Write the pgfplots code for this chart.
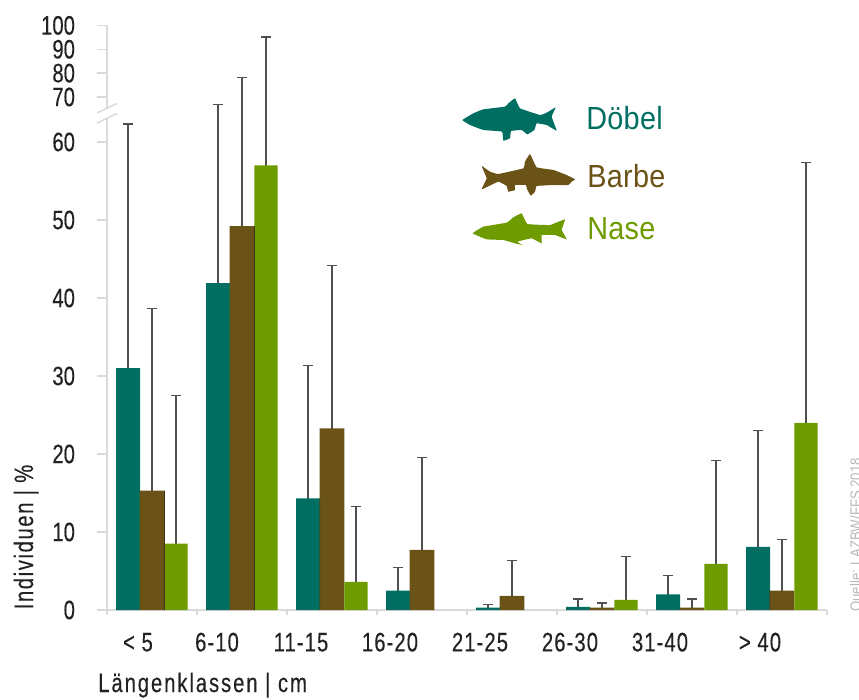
\documentclass[border=0pt]{standalone}
\usepackage{pgfplots}
\pgfplotsset{compat=1.18}
\usepackage{fontspec}
\setmainfont[FakeStretch=0.76,FakeBold=0.25]{Liberation Sans}
\newfontfamily\labfont[FakeStretch=0.76,FakeBold=0.25,LetterSpace=6]{Liberation Sans}
\newfontfamily\lenfont[FakeStretch=0.76,FakeBold=0.25,LetterSpace=7.2]{Liberation Sans}
\newfontfamily\catfont[FakeStretch=0.76,FakeBold=0.25,LetterSpace=4]{Liberation Sans}
\newfontfamily\legfont[FakeStretch=0.9,LetterSpace=1]{Liberation Sans}
\newfontfamily\srcfont[FakeStretch=0.86]{Liberation Sans}
\definecolor{teal1}{HTML}{006F62}
\definecolor{brown1}{HTML}{6B5317}
\definecolor{green1}{HTML}{6E9B00}
\definecolor{axgray}{HTML}{DADADA}
\definecolor{txt}{HTML}{222222}
\definecolor{errc}{HTML}{505050}
\definecolor{edge}{HTML}{3A3210}
\tikzset{px/.style={x=.75pt,y=-.75pt}}
\pgfplotsset{
  errstyle/.style={ycomb,color=errc,line width=.9pt,mark=-,mark size=4.1pt,mark options={line width=.9pt,color=errc}}
}
\begin{document}
\begin{tikzpicture}
\clip (0,0) rectangle (644.25pt,-524.25pt);
\begin{scope}[px]
  \draw[axgray,line width=1.1pt] (107,610) -- (827,610);
  \foreach \i in {0,...,8} {\draw[axgray,line width=1.1pt] ({107+90*\i},610) -- ({107+90*\i},615);}
\end{scope}
\begin{axis}[
  at={(80.25pt,-457.5pt)}, anchor=origin,
  scale only axis, width=540pt, height=438.45pt,
  xmin=0, xmax=8, ymin=0, ymax=100,
  y coord trafo/.code={\pgfmathparse{#1<=63 ? #1 : (#1<=70 ? 63+(#1-63)*0.3957 : 65.77+(#1-70)*0.306)}},
  axis line style={draw=none},
  axis x line*=bottom, axis y line*=left,
  xtick={0.344,1.2222,2.1556,3.1444,4.1444,5.1444,6.1444,7.2556},
  xticklabels={{< 5},{6-10},{11-15},{16-20},{21-25},{26-30},{31-40},{> 40}},
  xtick style={draw=none},
  xticklabel style={font=\catfont\fontsize{20pt}{22pt}\selectfont,text=txt,anchor=base,yshift=-23.5pt},
  ytick={0,10,20,30,40,50,60,70,80,90,100},
  yticklabels={0,10,20,30,40,50,60,70,80,90,100},
  ytick style={draw=axgray,line width=1.1pt},
  major tick length=7.5pt,
  tick align=outside,
  tick pos=left,
  yticklabel style={font=\fontsize{20pt}{20pt}\selectfont,text=txt,anchor=east,xshift=-13pt,inner ysep=0pt},
  clip=false,
]
% upper ends of the error bars (drawn first, behind the bars)
\addplot[errstyle,xshift=-18pt] coordinates {
 (0.5,62.3) (1.5,67.5) (2.5,31.3) (3.5,5.4) (4.5,0.7) (5.5,1.4) (6.5,4.4) (7.5,23.0)};
\addplot[errstyle] coordinates {
 (0.5,38.7) (1.5,78.2) (2.5,44.2) (3.5,19.6) (4.5,6.3) (5.5,0.9) (6.5,1.4) (7.5,9.0)};
\addplot[errstyle,xshift=18pt] coordinates {
 (0.5,27.5) (1.5,95.1) (2.5,13.3) (5.5,6.9) (6.5,19.2) (7.5,57.4)};
% Döbel
\addplot[ybar,bar width=18pt,bar shift=-18pt,fill=teal1,draw=none] coordinates {
 (0.5,31.0) (1.5,41.9) (2.5,14.3) (3.5,2.5) (4.5,0.3) (5.5,0.4) (6.5,2.0) (7.5,8.1)};
% Barbe
\addplot[ybar,bar width=18.6pt,bar shift=0pt,fill=brown1,draw=none] coordinates {
 (0.5,15.3) (1.5,49.2) (2.5,23.3) (3.5,7.7) (4.5,1.8) (5.5,0.3) (6.5,0.3) (7.5,2.5)};
% Nase
\addplot[ybar,bar width=17.4pt,bar shift=18pt,fill=green1,draw=none] coordinates {
 (0.5,8.5) (1.5,57.0) (2.5,3.6) (5.5,1.3) (6.5,5.9) (7.5,24.0)};
% thin dark edges between neighbouring bars
\addplot[ybar,bar width=.55pt,bar shift=9.3pt,fill=edge,draw=none] coordinates {(0.5,15.3) (1.5,49.2)};
\addplot[ybar,bar width=.55pt,bar shift=-9.1pt,fill=edge,draw=none] coordinates {(2.5,14.3) (7.5,2.5)};
\end{axis}
\begin{scope}[px]
  % broken y axis
  \draw[axgray,line width=1.1pt] (107,25.5) -- (107,107.5);
  \draw[axgray,line width=1.1pt] (107,118.5) -- (107,610);
  \draw[axgray,line width=1.1pt] (97,113) -- (117,103.5);
  \draw[axgray,line width=1.1pt] (97,123) -- (117,113.5);
  % axis titles
  \node[rotate=90,anchor=base,inner sep=0,text=txt,font=\labfont\fontsize{20pt}{22pt}\selectfont] at (33,537) {Individuen | \%};
  \node[anchor=base west,inner sep=0,text=txt,font=\lenfont\fontsize{20pt}{22pt}\selectfont] at (98,692) {Längenklassen | cm};
  \node[rotate=90,anchor=base west,inner sep=0,text=black!28,font=\srcfont\fontsize{11.5pt}{13pt}\selectfont] at (861,612) {Quelle: LAZBW/FFS 2018};
  % legend
  \node[anchor=base west,inner sep=0,text=teal1,font=\legfont\fontsize{24pt}{26pt}\selectfont] at (586,129) {Döbel};
  \node[anchor=base west,inner sep=0,text=brown1,font=\legfont\fontsize{24pt}{26pt}\selectfont] at (587,187) {Barbe};
  \node[anchor=base west,inner sep=0,text=green1,font=\legfont\fontsize{24pt}{26pt}\selectfont] at (587,239) {Nase};
  % fish silhouettes (traced)
  \begin{scope}[shift={(440,80)},x=.25pt,y=-.25pt]
  \fill[teal1] plot[smooth cycle,tension=0.15] coordinates {(67,120)(100,100)(130,88)(195,80)(205,70)(225,55)(240,85)(300,105)(320,98)(347,82)(335,110)(350,152)(320,135)(290,130)(283,150)(262,163)(245,150)(213,153)(210,175)(190,182)(186,155)(130,150)(90,135)};
  \fill[brown1] plot[smooth cycle,tension=0.15] coordinates {(125,258)(150,275)(175,282)(250,265)(255,245)(270,222)(290,262)(340,270)(380,285)(405,298)(395,305)(385,315)(340,315)(290,318)(285,335)(272,347)(260,325)(258,315)(225,315)(225,330)(205,335)(200,318)(175,305)(125,328)(140,295)};
  \fill[green1] plot[smooth cycle,tension=0.15] coordinates {(98,460)(130,440)(200,428)(220,412)(245,400)(262,432)(330,435)(375,418)(365,450)(380,478)(345,465)(305,465)(305,490)(275,475)(232,485)(247,495)(225,490)(190,480)(140,478)};
  \end{scope}
\end{scope}
\end{tikzpicture}
\end{document}
